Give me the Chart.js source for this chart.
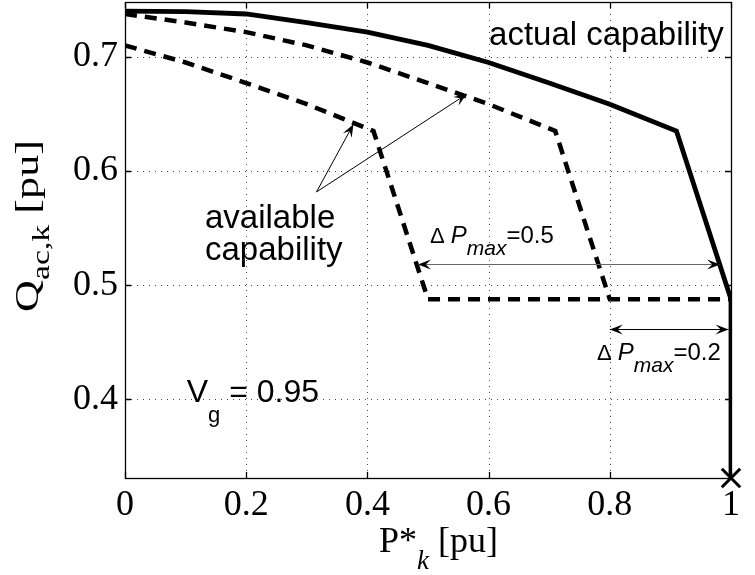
<!DOCTYPE html>
<html>
<head>
<meta charset="utf-8">
<script src="https://cdn.jsdelivr.net/npm/chart.js@4/dist/chart.umd.min.js"></script>
<style>
  html, body { margin: 0; padding: 0; background: #fff; }
  #wrap { width: 755px; height: 575px; }
</style>
</head>
<body>
<div id="wrap"><canvas id="cap" width="755" height="575"></canvas></div>
<script>
// Converter capability: reactive power limit Q_ac,k versus active power P*_k
const actualP = [0, 0.1, 0.2, 0.3, 0.4, 0.5, 0.6, 0.7, 0.8, 0.91, 1.0, 1.0];
const actualQ = [0.740, 0.7395, 0.7375, 0.730, 0.7216, 0.710, 0.695, 0.677, 0.6585, 0.635, 0.4875, 0.331];

// available capability with a 0.2 pu active power reserve
const avail02P = [0, 0.1, 0.2, 0.3, 0.4, 0.5, 0.6, 0.71, 0.8];
const avail02Q = [0.7375, 0.730, 0.7216, 0.710, 0.695, 0.677, 0.6585, 0.635, 0.4875];

// available capability with a 0.5 pu active power reserve
const avail05P = [0, 0.1, 0.2, 0.3, 0.41, 0.5, 1.0];
const avail05Q = [0.710, 0.695, 0.677, 0.6585, 0.635, 0.4875, 0.4875];

// operating point marker
const markP = [1.0];
const markQ = [0.331];

const xTicks = [0, 0.2, 0.4, 0.6, 0.8, 1];
const yTicks = [0.4, 0.5, 0.6, 0.7];
const xRange = [0, 1];
const yRange = [0.331, 0.748];

const pts = (xs, ys) => xs.map((x, i) => ({ x: x, y: ys[i] }));

const SERIF = '"Liberation Serif", "Times New Roman", serif';
const SANS = '"Liberation Sans", Arial, sans-serif';

// dotted grid, box and inward tick marks
const frame = {
  id: 'frame',
  beforeDatasetsDraw(chart) {
    const { ctx, chartArea: a, scales: { x, y } } = chart;
    ctx.save();
    ctx.strokeStyle = '#444';
    ctx.lineWidth = 1;
    ctx.setLineDash([1, 5]);
    xTicks.forEach(v => {
      const px = Math.round(x.getPixelForValue(v)) + 0.5;
      if (px <= a.left + 1 || px >= a.right - 1) return;
      ctx.beginPath(); ctx.moveTo(px, a.top); ctx.lineTo(px, a.bottom); ctx.stroke();
    });
    yTicks.forEach(v => {
      const py = Math.round(y.getPixelForValue(v)) + 0.5;
      ctx.beginPath(); ctx.moveTo(a.left, py); ctx.lineTo(a.right, py); ctx.stroke();
    });
    ctx.setLineDash([]);
    ctx.strokeStyle = '#000';
    ctx.lineWidth = 1.3;
    ctx.strokeRect(a.left + 0.5, a.top + 0.5, a.right - a.left, a.bottom - a.top);
    const t = 6;
    ctx.beginPath();
    xTicks.forEach(v => {
      const px = Math.round(x.getPixelForValue(v)) + 0.5;
      ctx.moveTo(px, a.bottom); ctx.lineTo(px, a.bottom - t);
      ctx.moveTo(px, a.top); ctx.lineTo(px, a.top + t);
    });
    yTicks.forEach(v => {
      const py = Math.round(y.getPixelForValue(v)) + 0.5;
      ctx.moveTo(a.left, py); ctx.lineTo(a.left + t, py);
      ctx.moveTo(a.right, py); ctx.lineTo(a.right - t, py);
    });
    ctx.stroke();
    ctx.restore();
  }
};

function arrowHead(ctx, x1, y1, x2, y2, len, half) {
  const ang = Math.atan2(y2 - y1, x2 - x1);
  const c = Math.cos(ang), s = Math.sin(ang);
  const bx = x2 - c * len, by = y2 - s * len;
  const nx = x2 - c * len * 0.6, ny = y2 - s * len * 0.6;
  ctx.beginPath();
  ctx.moveTo(x2, y2);
  ctx.lineTo(bx - s * half, by + c * half);
  ctx.lineTo(nx, ny);
  ctx.lineTo(bx + s * half, by - c * half);
  ctx.closePath();
  ctx.fill();
}

function drawRuns(ctx, x, y, runs) {
  // runs: [text, font, dy]
  let cx = x;
  runs.forEach(r => {
    ctx.font = r[1];
    ctx.fillText(r[0], cx, y + (r[2] || 0));
    cx += ctx.measureText(r[0]).width;
  });
}

// titles, labels and arrows
const notes = {
  id: 'notes',
  afterDraw(chart) {
    const { ctx, scales: { x, y } } = chart;
    const X = v => x.getPixelForValue(v), Y = v => y.getPixelForValue(v);
    ctx.save();
    ctx.fillStyle = '#000';
    ctx.textBaseline = 'alphabetic';
    ctx.textAlign = 'left';

    // axis titles
    drawRuns(ctx, 379, 552, [
      ['P*', '36px ' + SERIF, 0],
      ['k', 'italic 27px ' + SERIF, 17],
      [' [pu]', '36px ' + SERIF, 0]
    ]);
    ctx.save();
    ctx.translate(38, 312);
    ctx.rotate(-Math.PI / 2);
    ctx.scale(1.3, 1);
    drawRuns(ctx, 0, 0, [
      ['Q', '34px ' + SERIF, 0],
      ['ac,k', '26px ' + SERIF, 11],
      [' [pu]', '34px ' + SERIF, 0]
    ]);
    ctx.restore();

    // text labels
    ctx.font = '33px ' + SANS;
    ctx.fillText('actual capability', X(0.6007), Y(0.7103));
    ctx.fillText('available', X(0.132), Y(0.5503));
    ctx.fillText('capability', X(0.132), Y(0.5219));
    drawRuns(ctx, X(0.1018), Y(0.3977), [
      ['V', '32px ' + SANS, 0],
      ['g', '22px ' + SANS, 20],
      [' = 0.95', '32px ' + SANS, 0]
    ]);
    drawRuns(ctx, X(0.5033), Y(0.5372), [
      ['\u0394 ', '22px ' + SANS, 0],
      ['P', 'italic 24px ' + SANS, 0],
      ['max', 'italic 21px ' + SANS, 12],
      ['=0.5', '24px ' + SANS, 0]
    ]);
    drawRuns(ctx, X(0.7789), Y(0.4348), [
      ['\u0394 ', '22px ' + SANS, 0],
      ['P', 'italic 24px ' + SANS, 0],
      ['max', 'italic 21px ' + SANS, 12],
      ['=0.2', '24px ' + SANS, 0]
    ]);

    // pointer arrows to the available capability curves
    ctx.strokeStyle = '#000';
    ctx.lineWidth = 1;
    const ox = X(0.316), oy = Y(0.5816);
    [[0.377, 0.641], [0.564, 0.6673]].forEach(p => {
      const tx = X(p[0]), ty = Y(p[1]);
      ctx.beginPath(); ctx.moveTo(ox, oy); ctx.lineTo(tx, ty); ctx.stroke();
      arrowHead(ctx, ox, oy, tx, ty, 13, 5);
    });

    // reserve span arrows
    const span = (p0, p1, q, col) => {
      const x0 = X(p0), x1 = X(p1), yy = Math.round(Y(q)) + 0.5;
      ctx.strokeStyle = col;
      ctx.fillStyle = '#000';
      ctx.beginPath(); ctx.moveTo(x0, yy); ctx.lineTo(x1, yy); ctx.stroke();
      arrowHead(ctx, x1, yy, x0, yy, 13, 5);
      arrowHead(ctx, x0, yy, x1, yy, 13, 5);
    };
    span(0.4835, 0.982, 0.5188, '#666');
    span(0.80, 0.996, 0.4611, '#000');
    ctx.restore();
  }
};

const zeroPad = s => {
  s.paddingTop = 0; s.paddingBottom = 0; s.paddingLeft = 0; s.paddingRight = 0;
};

new Chart(document.getElementById('cap'), {
  type: 'scatter',
  data: {
    datasets: [
      {
        data: pts(actualP, actualQ), showLine: true, borderColor: '#000',
        borderWidth: 4.8, pointRadius: 0, tension: 0, fill: false
      },
      {
        data: pts(avail02P, avail02Q), showLine: true, borderColor: '#000',
        borderWidth: 4.5, borderDash: [12, 8], pointRadius: 0, tension: 0, fill: false
      },
      {
        data: pts(avail05P, avail05Q), showLine: true, borderColor: '#000',
        borderWidth: 4.5, borderDash: [12, 8], pointRadius: 0, tension: 0, fill: false
      },
      {
        data: pts(markP, markQ), showLine: false, pointStyle: 'crossRot',
        pointRadius: 13, pointBorderWidth: 3, borderColor: '#000', clip: false
      }
    ]
  },
  options: {
    responsive: false,
    animation: false,
    events: [],
    layout: { autoPadding: false, padding: { top: 2, right: 24, left: 0, bottom: 0 } },
    plugins: { legend: { display: false }, tooltip: { enabled: false } },
    scales: {
      x: {
        type: 'linear', min: xRange[0], max: xRange[1],
        grid: { display: false, drawTicks: false },
        border: { display: false },
        afterBuildTicks: s => { s.ticks = xTicks.map(v => ({ value: v })); },
        afterFit: s => { s.height = 97; zeroPad(s); },
        ticks: {
          color: '#000', padding: 6, maxRotation: 0, autoSkip: false,
          font: { family: SERIF, size: 36 },
          callback: v => String(v)
        }
      },
      y: {
        type: 'linear', min: yRange[0], max: yRange[1],
        grid: { display: false, drawTicks: false },
        border: { display: false },
        afterBuildTicks: s => { s.ticks = yTicks.map(v => ({ value: v })); },
        afterFit: s => { s.width = 125; zeroPad(s); },
        ticks: {
          color: '#000', padding: 7, autoSkip: false,
          font: { family: SERIF, size: 36 },
          callback: v => v.toFixed(1)
        }
      }
    }
  },
  plugins: [frame, notes]
});
</script>
</body>
</html>
